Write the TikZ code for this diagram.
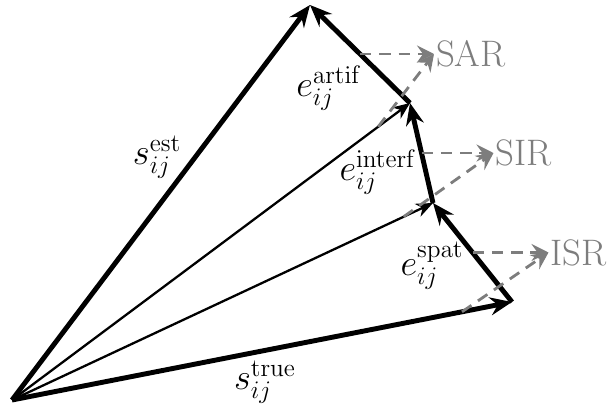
\documentclass[tikz,border=0pt]{standalone}
\usepackage{amsmath}
\usetikzlibrary{arrows.meta,calc}
\definecolor{projgray}{RGB}{125,125,125}
\tikzset{
    vecthick/.style={draw, line width=2.8pt, -{Stealth[length=4.4mm, width=3.6mm, inset=1.5mm]}},
    vecthin/.style={draw, line width=1.3pt, -{Stealth[length=3.4mm, width=2.8mm, inset=1.1mm]}},
    projline/.style={draw=projgray, line width=1.6pt, dash pattern=on 6.5pt off 4.5pt, -{Stealth[length=3.4mm, width=3.4mm, inset=1.2mm]}},
    ratiolabel/.style={anchor=west, inner sep=1pt, text=projgray, font=\fontsize{21}{24}\selectfont},
    veclabel/.style={inner sep=0pt, font=\fontsize{21}{24}\selectfont}
}
\begin{document}
\begin{tikzpicture}[x=0.02cm, y=-0.02cm]
    \useasboundingbox (0,0) rectangle (607,412);
    % vertices of the decomposition
    \coordinate (O) at (12,400);
    \coordinate (T) at (512,302);
    \coordinate (P1) at (433,203);
    \coordinate (P2) at (410,103);
    \coordinate (E) at (310,5);

    % partial sums
    \draw[vecthin] (O) -- (P1);
    \draw[vecthin] (O) -- (P2);

    % error terms and sources
    \draw[vecthick] (O) -- (T);
    \draw[vecthick] (T) -- (P1);
    \draw[vecthick] (P1) -- (P2);
    \draw[vecthick] (P2) -- (E);
    \draw[vecthick] (O) -- (E);

    \node[veclabel] (sest) at (157,157) {$s_{ij}^{\mathrm{est}}$};
    \node[veclabel] (strue) at (265,382) {$s_{ij}^{\mathrm{true}}$};
    \node[veclabel] (eartif) at (329,88) {$e_{ij}^{\mathrm{artif}}$};
    \node[veclabel] (einterf) at (378,172) {$e_{ij}^{\mathrm{interf}}$};
    \node[veclabel] (espat) at (432,266) {$e_{ij}^{\mathrm{spat}}$};

    % ratios
    \node[ratiolabel] (isr) at ($(T)!0.5!(P1)+(76,0)$) {ISR};
    \node[ratiolabel] (sir) at ($(P1)!0.5!(P2)+(72,0)$) {SIR};
    \node[ratiolabel] (sar) at ($(P2)!0.5!(E)+(74,0)$) {SAR};

    \draw[projline] ($(T)!0.5!(P1)$) -- (isr.west);
    \draw[projline] ($(O)!0.9!(T)$) -- (isr.west);
    \draw[projline] ($(P1)!0.5!(P2)$) -- (sir.west);
    \draw[projline] ($(O)!0.93!(P1)$) -- (sir.west);
    \draw[projline] ($(P2)!0.5!(E)$) -- (sar.west);
    \draw[projline] ($(O)!0.92!(P2)$) -- (sar.west);
\end{tikzpicture}
\end{document}
